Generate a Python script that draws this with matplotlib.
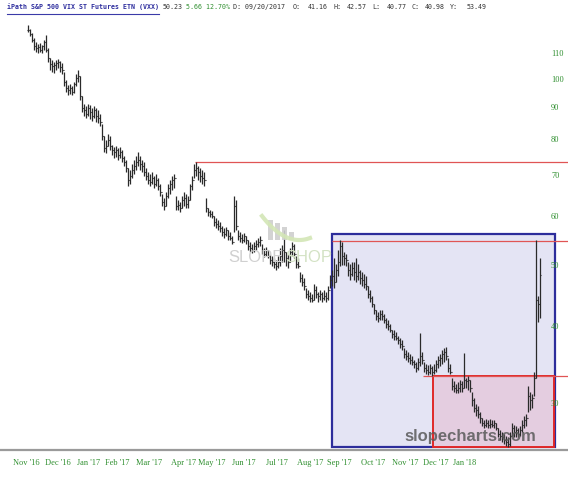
import numpy as np
import matplotlib
matplotlib.use('Agg')
import matplotlib.pyplot as plt
from matplotlib.patches import Rectangle
from matplotlib.lines import Line2D

# VXX daily bars (one bar every ~2 px)
high = [
    122.0, 120.2, 118.5, 116.3, 114.6, 113.7, 114.2, 113.3, 115.4, 117.6,
    112.0, 107.9, 107.1, 106.3, 107.1, 107.5, 106.7, 105.9, 102.5, 99.5,
    97.7, 98.0, 97.3, 98.8, 101.7, 103.2, 101.0, 93.7, 91.0, 90.3,
    91.0, 90.7, 89.7, 90.3, 89.7, 89.0, 87.7, 84.5, 80.8, 79.6,
    81.4, 80.8, 78.1, 77.6, 77.9, 77.3, 77.6, 76.7, 75.0, 73.9,
    71.7, 71.2, 72.8, 73.9, 75.0, 76.1, 75.0, 73.9, 73.4, 71.7,
    70.7, 70.1, 70.7, 69.6, 70.1, 69.1, 67.6, 65.1, 64.2, 65.6,
    67.6, 68.6, 69.6, 70.1, 64.7, 63.7, 63.2, 64.7, 65.6, 65.1,
    64.7, 67.6, 69.6, 72.8, 73.4, 72.3, 71.7, 71.2, 70.7, 64.2,
    61.9, 61.4, 61.2, 60.1, 59.6, 59.2, 58.8, 57.9, 57.4, 57.6,
    57.0, 56.6, 55.7, 64.7, 63.7, 57.0, 56.6, 56.2, 56.4, 55.7,
    54.9, 54.5, 54.1, 54.5, 54.9, 55.3, 55.7, 54.1, 53.3, 53.5,
    52.9, 52.1, 51.8, 51.4, 51.0, 51.8, 53.3, 53.9, 57.0, 52.5,
    52.1, 53.3, 54.5, 54.1, 51.8, 51.4, 48.7, 48.4, 47.7, 45.9,
    45.6, 45.3, 44.9, 46.6, 46.3, 45.3, 45.6, 45.3, 45.6, 45.3,
    46.3, 48.2, 49.1, 51.4, 50.2, 52.9, 54.9, 54.5, 52.5, 52.1,
    50.6, 50.2, 50.6, 50.6, 51.4, 50.2, 49.1, 48.7, 48.4, 48.0,
    46.3, 45.6, 44.6, 43.3, 42.4, 42.1, 42.4, 42.4, 41.8, 41.1,
    40.8, 40.2, 39.3, 39.3, 39.0, 38.5, 38.2, 37.9, 36.8, 36.5,
    36.2, 36.0, 35.7, 35.2, 34.9, 35.5, 38.9, 36.2, 34.9, 34.7,
    34.5, 34.7, 34.4, 34.7, 35.2, 35.7, 36.0, 36.5, 36.8, 37.0,
    35.5, 34.7, 32.9, 32.5, 32.2, 32.4, 32.7, 32.5, 36.1, 32.9,
    33.2, 32.7, 31.3, 30.6, 29.9, 29.7, 29.0, 28.4, 28.2, 28.3,
    28.2, 28.3, 28.2, 28.2, 27.9, 27.3, 27.1, 26.9, 26.7, 26.5,
    26.4, 26.9, 27.9, 27.7, 27.5, 27.3, 27.5, 28.2, 28.6, 28.8,
    32.0, 31.3, 31.0, 33.7, 54.9, 44.6, 51.4,
]
low = [
    118.9, 117.2, 114.6, 111.2, 110.4, 110.0, 110.4, 110.0, 111.2, 110.4,
    106.3, 103.2, 102.5, 102.1, 103.2, 104.0, 102.5, 101.7, 97.3, 95.1,
    94.1, 94.4, 94.1, 94.8, 97.3, 98.8, 92.3, 88.3, 87.0, 86.4,
    87.0, 86.1, 85.4, 86.4, 85.1, 84.8, 83.8, 79.6, 76.1, 75.8,
    77.9, 76.7, 75.3, 74.5, 74.7, 73.9, 74.5, 73.4, 72.3, 70.7,
    67.1, 67.6, 69.1, 70.1, 71.2, 72.3, 71.2, 70.7, 69.6, 68.6,
    67.6, 67.1, 67.6, 66.6, 67.1, 66.1, 64.7, 62.3, 61.4, 62.3,
    64.2, 65.1, 66.1, 66.6, 61.4, 61.4, 61.0, 61.9, 62.3, 61.9,
    61.9, 63.7, 66.1, 69.1, 69.6, 68.6, 68.1, 67.6, 67.1, 61.0,
    60.1, 59.8, 59.6, 57.9, 57.4, 57.0, 56.6, 55.7, 55.3, 55.7,
    54.9, 54.9, 54.1, 56.6, 57.0, 54.9, 54.5, 54.3, 54.5, 54.1,
    52.9, 52.5, 52.3, 52.5, 52.9, 53.5, 53.7, 52.1, 51.6, 51.8,
    51.4, 50.2, 49.9, 49.5, 49.1, 49.5, 49.9, 50.6, 50.6, 49.9,
    49.5, 50.6, 51.8, 51.4, 49.5, 49.5, 47.0, 46.3, 45.6, 44.3,
    44.0, 43.7, 43.7, 44.0, 44.3, 43.7, 44.0, 43.7, 44.0, 43.7,
    44.0, 45.9, 46.3, 45.9, 47.0, 48.0, 49.9, 50.0, 50.0, 49.9,
    48.0, 47.3, 48.0, 47.3, 47.0, 47.3, 46.6, 46.3, 45.9, 45.6,
    44.3, 43.7, 42.8, 41.8, 40.8, 40.5, 40.8, 40.8, 40.3, 39.6,
    39.3, 39.0, 38.2, 37.9, 37.9, 37.3, 36.8, 36.5, 35.5, 35.2,
    34.9, 34.7, 34.5, 34.2, 33.7, 33.9, 34.4, 34.7, 33.7, 33.4,
    33.3, 33.4, 33.2, 33.4, 33.7, 34.2, 34.4, 34.7, 34.9, 35.2,
    33.7, 33.4, 31.5, 31.3, 31.1, 31.1, 31.3, 31.3, 31.7, 31.7,
    31.5, 31.3, 29.7, 29.0, 28.6, 28.4, 27.9, 27.5, 27.3, 27.4,
    27.3, 27.3, 27.4, 27.3, 27.1, 26.4, 26.2, 26.0, 25.8, 25.6,
    25.5, 25.6, 26.5, 26.4, 26.4, 26.4, 26.5, 26.9, 27.3, 27.5,
    29.0, 29.2, 29.4, 30.8, 32.9, 40.5, 41.1,
]
close = [
    119.8, 118.0, 115.4, 112.9, 112.0, 112.5, 111.2, 112.9, 114.6, 111.2,
    107.9, 105.5, 104.8, 105.1, 105.9, 106.3, 104.4, 103.2, 98.8, 96.5,
    95.8, 96.5, 95.1, 98.0, 100.2, 101.0, 93.7, 89.7, 89.0, 87.7,
    89.7, 88.3, 87.0, 89.0, 87.0, 86.4, 85.1, 80.8, 77.3, 77.9,
    79.6, 77.9, 76.7, 76.1, 76.7, 75.3, 76.1, 74.5, 73.4, 71.7,
    68.6, 69.6, 71.2, 72.3, 73.4, 73.9, 72.8, 72.3, 70.7, 69.6,
    68.6, 68.1, 69.1, 67.6, 68.6, 67.1, 65.6, 63.2, 62.3, 64.7,
    66.6, 67.6, 68.6, 69.1, 62.3, 62.6, 61.9, 63.7, 64.2, 62.8,
    63.7, 67.1, 68.6, 71.2, 71.7, 70.7, 69.6, 69.1, 68.6, 61.9,
    61.0, 60.5, 60.1, 58.8, 58.3, 57.9, 57.4, 56.6, 56.2, 57.0,
    55.7, 55.3, 54.5, 62.3, 57.9, 55.7, 55.3, 54.9, 55.7, 54.9,
    53.7, 53.3, 52.9, 53.7, 54.1, 54.5, 54.9, 52.9, 52.1, 52.9,
    51.8, 51.0, 50.6, 50.2, 49.9, 50.6, 51.8, 52.9, 52.5, 51.4,
    50.6, 52.5, 53.7, 52.1, 50.2, 49.9, 47.7, 47.0, 46.3, 44.9,
    44.6, 44.3, 44.0, 45.6, 44.9, 44.6, 44.9, 44.3, 44.6, 44.3,
    45.6, 47.3, 48.0, 47.0, 49.1, 50.6, 53.7, 51.8, 51.4, 51.0,
    49.1, 48.4, 49.5, 48.7, 48.0, 48.7, 47.7, 47.3, 46.6, 46.3,
    44.9, 44.3, 43.3, 42.4, 41.5, 41.1, 41.8, 41.5, 40.8, 40.2,
    39.9, 39.3, 38.7, 38.5, 38.2, 37.9, 37.3, 37.1, 36.0, 35.7,
    35.5, 35.2, 34.9, 34.7, 34.2, 34.9, 35.7, 35.2, 34.2, 33.9,
    33.7, 34.2, 33.7, 33.9, 34.7, 35.2, 35.5, 36.0, 36.2, 35.7,
    34.2, 33.7, 32.0, 31.7, 31.5, 31.7, 32.2, 31.7, 32.7, 32.5,
    32.7, 31.7, 30.3, 29.4, 29.2, 28.8, 28.4, 27.9, 27.7, 27.9,
    27.7, 27.8, 27.7, 27.9, 27.3, 26.7, 26.5, 26.4, 26.2, 26.0,
    25.8, 26.5, 27.3, 26.9, 27.1, 26.7, 27.1, 27.7, 28.2, 28.4,
    30.8, 30.3, 30.6, 32.9, 44.0, 43.3, 48.2,
]

months = ["Nov '16", "Dec '16", "Jan '17", "Feb '17", "Mar '17", "Apr '17",
          "May '17", "Jun '17", "Jul '17", "Aug '17", "Sep '17", "Oct '17",
          "Nov '17", "Dec '17", "Jan '18"]
month_pos = [-1, 14.75, 30.5, 44.75, 60.75, 78, 92, 107.75, 124.25,
             141, 155.5, 172.5, 188.5, 203.75, 218.5]
yticks = [30, 40, 50, 60, 70, 80, 90, 100, 110]

# drawn levels / boxes (bar index, price)
level_lines = [(73.4, 83.5), (54.7, 152), (33.2, 197.5)]
blue_box = (152, 263.5, 25.5, 56.2)
red_box = (202.5, 263, 25.5, 33.2)

W, H = 568, 480
green = '#2f8f2f'
fig = plt.figure(figsize=(W / 100, H / 100), dpi=100)
ax = fig.add_axes([0, 30 / H, 1, 430 / H])
ax.set_yscale('log')
ax.set_xlim(-14, 270)
ax.set_ylim(25.2, 124.3)

x0, x1, y0, y1 = blue_box
ax.add_patch(Rectangle((x0, y0), x1 - x0, y1 - y0, facecolor='#e4e4f4',
                       edgecolor='#2d2d9b', lw=1.6, zorder=1))
x0, x1, y0, y1 = red_box
ax.add_patch(Rectangle((x0, y0), x1 - x0, y1 - y0, facecolor='#e4cde0',
                       edgecolor='#e02828', lw=1.4, zorder=1.5))
for price, start in level_lines:
    ax.hlines(price, start, 270, color='#e05555', lw=0.9, zorder=1.6)

idx = np.arange(len(close))
opens = [close[0]] + close[:-1]
bar_col = '#2a2a2a'
ax.vlines(idx, low, high, color=bar_col, lw=0.9, zorder=3)
ax.hlines(opens, idx - 0.7, idx, color=bar_col, lw=0.8, zorder=3)
ax.hlines(close, idx, idx + 0.7, color=bar_col, lw=0.8, zorder=3)

for s in ['top', 'left', 'right']:
    ax.spines[s].set_visible(False)
ax.spines['bottom'].set_color('#9a9a9a')
ax.spines['bottom'].set_linewidth(1.6)

ax.set_xticks(month_pos, months)
ax.tick_params(axis='x', length=0, pad=6.5, labelsize=6, labelcolor=green)
ax.set_yticks(yticks, [str(v) for v in yticks])
ax.yaxis.set_minor_locator(plt.NullLocator())
ax.tick_params(axis='y', which='both', left=False, right=True, length=0,
               labelleft=False, labelright=True, pad=-12.2, labelsize=6,
               labelcolor=green)
for lbl in ax.get_xticklabels() + ax.get_yticklabels():
    lbl.set_fontfamily('Liberation Serif')


def px(x, y):
    return x / W, 1 - y / H


# watermarks
for bx, top in [(268, 220), (275, 223), (282, 227), (289, 232)]:
    fig.add_artist(Rectangle(px(bx, 240), 4.5 / W, (240 - top) / H,
                             transform=fig.transFigure, facecolor='#cfcfcf',
                             edgecolor='none', alpha=0.9, zorder=2))
t = np.linspace(0, 1, 30)
sx = 262 + 48 * t
sy = 216 + 62 * t - 40 * t ** 2
fig.add_artist(Line2D(sx / W, 1 - sy / H, transform=fig.transFigure,
                      color='#d3e6b6', lw=3, alpha=0.9, zorder=2))
fig.text(*px(228, 258), 'SLOPE', fontsize=12, family='Liberation Sans',
         color='#d0d0d0', va='center', ha='left', zorder=2)
fig.text(*px(285, 258), 'SHOP', fontsize=12, family='Liberation Sans',
         color='#d3e2c4', va='center', ha='left', zorder=2)
fig.text(*px(404, 436), 'slopecharts.com', fontsize=12, family='Liberation Sans',
         fontweight='bold', color='#5a5a5a', alpha=0.85, va='center', ha='left',
         zorder=4)

# header line
hdr = [
    ('iPath S&P 500 VIX ST Futures ETN (VXX)', 7, '#2e2e9e', 'bold'),
    ('50.23', 163, '#333333', 'normal'),
    ('5.66 12.70%', 186, green, 'normal'),
    ('D: 09/20/2017', 233, '#333333', 'normal'),
    ('O:', 293, '#333333', 'normal'), ('41.16', 308, '#333333', 'normal'),
    ('H:', 333, '#333333', 'normal'), ('42.57', 347, '#333333', 'normal'),
    ('L:', 372, '#333333', 'normal'), ('40.77', 387, '#333333', 'normal'),
    ('C:', 412, '#333333', 'normal'), ('40.98', 425, '#333333', 'normal'),
    ('Y:', 450, '#333333', 'normal'), ('53.49', 467, '#333333', 'normal'),
]
for txt, x, col, wt in hdr:
    fig.text(*px(x, 7), txt, fontsize=4.8, family='DejaVu Sans Mono',
             color=col, fontweight=wt, va='center', ha='left')
fig.add_artist(Line2D([7 / W, 159 / W], [1 - 13.5 / H, 1 - 13.5 / H],
                      transform=fig.transFigure, color='#3a3aa8', lw=0.8))

fig.savefig('out.png', dpi=100)
